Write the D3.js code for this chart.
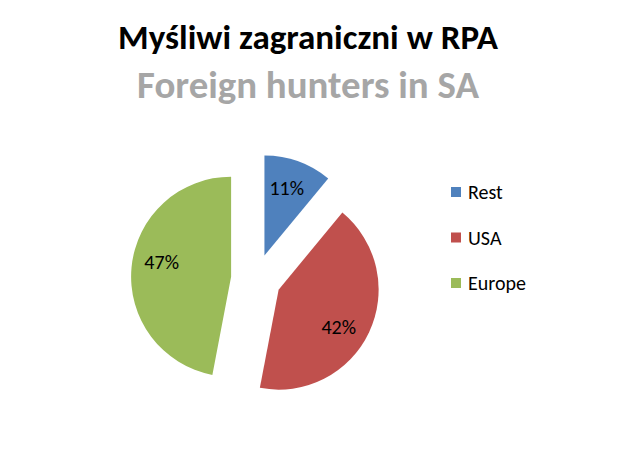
<!DOCTYPE html>
<html>
<head>
<meta charset="utf-8">
<script src="https://cdn.jsdelivr.net/npm/d3@7"></script>
<style>
  body { margin: 0; background: #fff; }
  svg { display: block; font-family: Calibri, Carlito, Lato, "Open Sans", sans-serif; }
</style>
</head>
<body>
<div id="chart"></div>
<script>
var categories = ["Rest", "USA", "Europe"];
var values     = [11, 42, 47];
var colors     = ["#4F81BD", "#C0504D", "#9BBB59"];
var title      = "Myśliwi zagraniczni w RPA";
var subtitle   = "Foreign hunters in SA";

var width = 621, height = 450;
var cx = 256, cy = 279, radius = 100, explode = 25;
// small per-slice turn (degrees) of the percent labels, like Excel's best fit
var labelTurn = [-1.5, 7, 6.5];

var svg = d3.select("#chart").append("svg")
  .attr("width", width)
  .attr("height", height);

// squeeze text to the width it has in the picture
function fitText(sel, target) {
  var w = sel.node().getComputedTextLength();
  var fs = parseFloat(sel.attr("font-size"));
  sel.attr("font-size", fs * target / w);
}

var t1 = svg.append("text")
  .attr("x", 308).attr("y", 49)
  .attr("text-anchor", "middle")
  .attr("font-weight", "bold")
  .attr("font-size", 36)
  .attr("fill", "#000")
  .text(title);
fitText(t1, 380);

var t2 = svg.append("text")
  .attr("x", 308).attr("y", 98)
  .attr("text-anchor", "middle")
  .attr("font-weight", "bold")
  .attr("font-size", 32)
  .attr("fill", "#A6A6A6")
  .text(subtitle);
fitText(t2, 342);

var pie = d3.pie().sort(null).value(function(d) { return d; });
var arcs = pie(values);
var arc = d3.arc().innerRadius(0).outerRadius(radius);

var g = svg.append("g").attr("transform", "translate(" + cx + "," + cy + ")");

function offset(a, k) {
  return [Math.sin(a) * k, -Math.cos(a) * k];
}
function mid(d) { return (d.startAngle + d.endAngle) / 2; }

var slice = g.selectAll("g.slice").data(arcs).enter().append("g")
  .attr("class", "slice")
  .attr("transform", function(d) {
    var o = offset(mid(d), explode);
    return "translate(" + o[0] + "," + o[1] + ")";
  });

slice.append("path")
  .attr("d", arc)
  .attr("fill", function(d, i) { return colors[i]; });

slice.append("text")
  .attr("transform", function(d, i) {
    var o = offset(mid(d) + labelTurn[i] * Math.PI / 180, radius * 0.71);
    return "translate(" + o[0] + "," + o[1] + ")";
  })
  .attr("text-anchor", "middle")
  .attr("dy", "0.35em")
  .attr("font-size", 20)
  .attr("fill", "#000")
  .text(function(d) { return d.value + "%"; });

// legend
var legend = svg.selectAll("g.legend").data(categories).enter().append("g")
  .attr("class", "legend")
  .attr("transform", function(d, i) { return "translate(451," + (187 + i * 45.5) + ")"; });

legend.append("rect")
  .attr("width", 10).attr("height", 10)
  .attr("fill", function(d, i) { return colors[i]; });

legend.append("text")
  .attr("x", 17).attr("y", 5)
  .attr("dy", "0.35em")
  .attr("font-size", 20)
  .attr("fill", "#000")
  .text(function(d) { return d; });
</script>
</body>
</html>
